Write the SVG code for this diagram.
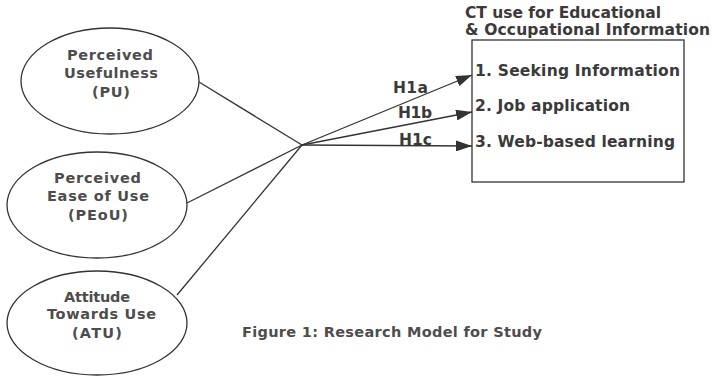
<svg xmlns="http://www.w3.org/2000/svg" width="712" height="377" viewBox="0 0 712 377">
<defs>
<style>
.n{fill:none;stroke:#333;stroke-width:1.3}
.t{font-family:"DejaVu Sans",Verdana,sans-serif;font-weight:bold;font-size:14.5px;fill:#4d4d4d}
.b{font-family:"DejaVu Sans",Verdana,sans-serif;font-weight:bold;font-size:15.5px;fill:#3a3a3a}
.c{stroke:#333;stroke-width:1.3;fill:none}
</style>
<marker id="ah" viewBox="0 0 16 11" refX="16" refY="5.5" markerWidth="16" markerHeight="11" markerUnits="userSpaceOnUse" orient="auto">
<path d="M0,0 L16,5.5 L0,11 Z" fill="#333"/>
</marker>
</defs>
<rect width="712" height="377" fill="#fff"/>
<g id="pu">
<ellipse class="n" cx="110" cy="81" rx="89" ry="53"/>
<text class="t" x="67" y="60" textLength="86" lengthAdjust="spacing">Perceived</text>
<text class="t" x="64" y="78" textLength="94" lengthAdjust="spacing">Usefulness</text>
<text class="t" x="92" y="97" textLength="38" lengthAdjust="spacing">(PU)</text>
</g>
<g id="peou">
<ellipse class="n" cx="97" cy="205" rx="90" ry="53"/>
<text class="t" x="54" y="183" textLength="87" lengthAdjust="spacing">Perceived</text>
<text class="t" x="47" y="201" textLength="102" lengthAdjust="spacing">Ease of Use</text>
<text class="t" x="68" y="220" textLength="60" lengthAdjust="spacing">(PEoU)</text>
</g>
<g id="atu">
<ellipse class="n" cx="97" cy="323" rx="90" ry="52"/>
<text class="t" x="64" y="302" textLength="66" lengthAdjust="spacing">Attitude</text>
<text class="t" x="47" y="319" textLength="109" lengthAdjust="spacing">Towards Use</text>
<text class="t" x="72" y="338" textLength="50" lengthAdjust="spacing">(ATU)</text>
</g>
<g id="ct">
<text class="b" x="465" y="18" textLength="196" lengthAdjust="spacing">CT use for Educational</text>
<text class="b" x="465" y="35" textLength="245" lengthAdjust="spacing">&amp; Occupational Information</text>
<rect class="n" x="472" y="40" width="212" height="142"/>
<text class="b" x="475" y="76" textLength="205" lengthAdjust="spacing">1. Seeking Information</text>
<text class="b" x="475" y="111" textLength="155" lengthAdjust="spacing">2. Job application</text>
<text class="b" x="475" y="147" textLength="200" lengthAdjust="spacing">3. Web-based learning</text>
</g>
<g id="connectors">
<line class="c" x1="199" y1="82" x2="302" y2="145"/>
<line class="c" x1="187" y1="203" x2="302" y2="145"/>
<line class="c" x1="177" y1="295" x2="302" y2="145"/>
<line class="c" x1="302" y1="145" x2="472" y2="75" marker-end="url(#ah)"/>
<line class="c" x1="302" y1="145" x2="472" y2="112" marker-end="url(#ah)"/>
<line class="c" x1="302" y1="145" x2="472" y2="146" marker-end="url(#ah)"/>
<text class="b" x="393" y="93" textLength="35" lengthAdjust="spacing">H1a</text>
<text class="b" x="398" y="118" textLength="34" lengthAdjust="spacing">H1b</text>
<text class="b" x="399" y="145" textLength="33" lengthAdjust="spacing">H1c</text>
</g>
<text class="t" x="242" y="337" textLength="300" lengthAdjust="spacing">Figure 1: Research Model for Study</text>
</svg>
